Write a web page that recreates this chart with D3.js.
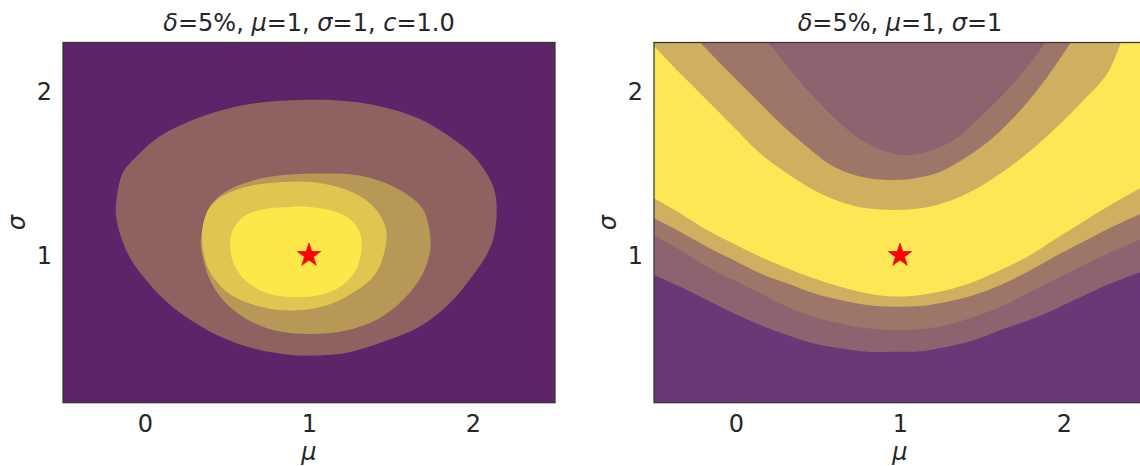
<!DOCTYPE html>
<html>
<head>
<meta charset="utf-8">
<script src="https://cdn.jsdelivr.net/npm/d3@7"></script>
<style>
  html, body { margin: 0; padding: 0; background: #fff; }
  svg { display: block; font-family: "DejaVu Sans", sans-serif; }
</style>
</head>
<body>
<svg id="chart" width="1140" height="466"></svg>
<script>
// ---------------- data ----------------
const muTicks = [0, 1, 2];
const sigmaTicks = [1, 2];
const muDomain = [-0.5, 2.5];
const sigmaDomain = [0.1, 2.3];
const trueMu = 1;
const trueSigma = 1;

const leftTitle = [["δ", true], ["=5%, ", false], ["μ", true], ["=1, ", false], ["σ", true], ["=1, ", false], ["c", true], ["=1.0", false]];
const rightTitle = [["δ", true], ["=5%, ", false], ["μ", true], ["=1, ", false], ["σ", true], ["=1", false]];

// left panel: nested confidence regions, [mu, sigma] boundary points
const leftOuter = [[0.93,1.949],[0.67,1.929],[0.44,1.878],[0.22,1.796],[0.07,1.714],[-0.044,1.612],[-0.133,1.51],[-0.167,1.388],[-0.178,1.265],[-0.156,1.143],[-0.089,0.98],[0.0,0.857],[0.111,0.735],[0.267,0.612],[0.444,0.51],[0.667,0.429],[0.889,0.392],[1.0,0.388],[1.222,0.404],[1.444,0.469],[1.667,0.561],[1.844,0.694],[2.0,0.878],[2.111,1.061],[2.144,1.245],[2.133,1.388],[2.089,1.49],[2.0,1.612],[1.844,1.735],[1.667,1.837],[1.444,1.908],[1.222,1.943]];
const leftMiddle = [[1.04,1.5],[0.84,1.49],[0.67,1.46],[0.53,1.41],[0.44,1.35],[0.38,1.27],[0.35,1.16],[0.34,1.06],[0.36,0.96],[0.4,0.84],[0.49,0.71],[0.62,0.61],[0.8,0.54],[1.0,0.52],[1.22,0.54],[1.42,0.61],[1.58,0.735],[1.69,0.88],[1.74,1.04],[1.73,1.18],[1.69,1.29],[1.6,1.37],[1.47,1.44],[1.29,1.49]];
const leftInner = [[0.89,1.45],[0.67,1.43],[0.53,1.39],[0.44,1.34],[0.38,1.27],[0.35,1.16],[0.35,1.06],[0.37,0.96],[0.42,0.86],[0.53,0.755],[0.71,0.685],[0.89,0.663],[1.07,0.684],[1.24,0.755],[1.4,0.88],[1.46,1.02],[1.47,1.16],[1.42,1.265],[1.33,1.35],[1.2,1.41],[1.04,1.445]];
const leftCore = [[0.89,1.296],[0.71,1.28],[0.6,1.235],[0.53,1.14],[0.52,1.04],[0.545,0.94],[0.62,0.84],[0.755,0.765],[0.91,0.745],[1.07,0.76],[1.2,0.815],[1.29,0.92],[1.32,1.04],[1.31,1.14],[1.245,1.225],[1.13,1.275],[1.0,1.296]];

// right panel: band boundaries (sigma at sampled mu), bottom to top
const rightMu = [-0.5,-0.341,-0.178,-0.016,0.147,0.311,0.473,0.636,0.799,0.962,1.125,1.288,1.451,1.614,1.777,1.939,2.102,2.265,2.5];
const rightB7 = [0.88,0.808,0.727,0.646,0.574,0.513,0.462,0.432,0.411,0.411,0.415,0.442,0.483,0.544,0.6,0.668,0.745,0.82,0.91];
const rightB6 = [1.124,1.032,0.931,0.849,0.768,0.686,0.625,0.584,0.554,0.544,0.548,0.574,0.625,0.686,0.768,0.85,0.93,1.01,1.11];
const rightB5 = [1.226,1.144,1.053,0.971,0.89,0.829,0.768,0.727,0.696,0.686,0.69,0.717,0.758,0.819,0.9,0.99,1.075,1.16,1.27];
const rightB4 = [1.348,1.257,1.155,1.073,0.992,0.921,0.86,0.808,0.768,0.748,0.758,0.788,0.839,0.91,0.992,1.094,1.196,1.297,1.43];
const rightB3Mu = [-0.5,-0.341,-0.178,-0.016,0.147,0.311,0.473,0.636,0.799,0.962,1.125,1.288,1.451,1.614,1.777,1.939,2.102,2.265,2.347];
const rightB3 = [2.278,2.112,1.949,1.786,1.623,1.501,1.399,1.328,1.287,1.277,1.287,1.328,1.399,1.501,1.623,1.767,1.929,2.112,2.3];
const rightB2 = [[-0.219,2.3],[-0.056,2.132],[0.107,1.969],[0.27,1.806],[0.433,1.664],[0.595,1.542],[0.758,1.481],[0.921,1.46],[1.084,1.47],[1.247,1.511],[1.41,1.603],[1.573,1.725],[1.736,1.888],[1.899,2.091],[2.041,2.3]];
const rightB1 = [[0.198,2.3],[0.331,2.132],[0.473,1.969],[0.636,1.806],[0.799,1.684],[1.003,1.613],[1.166,1.633],[1.328,1.704],[1.491,1.847],[1.655,2.01],[1.777,2.152],[1.888,2.3]];

// ---------------- styles ----------------
const leftColors = { bg: "#5e246a", outer: "#8e6260", middle: "#b89856", inner: "#e0c650", core: "#fde84a" };
const rightColors = { bg: "#6a3777", mauve: "#8e6370", tan: "#9d7569", gold: "#cfb060", yellow: "#fce854" };
const textColor = "#262626";
const fontSize = 24;

const svg = d3.select("#chart");
const defs = svg.append("defs");

const plotTop = 42.5, plotBottom = 402.7, plotW = 492;
const panels = [
  { left: 63, title: leftTitle, id: "L" },
  { left: 654, title: rightTitle, id: "R" }
];

function makePanel(p) {
  const x = d3.scaleLinear().domain(muDomain).range([p.left, p.left + plotW]);
  const y = d3.scaleLinear().domain(sigmaDomain).range([plotBottom, plotTop]);
  defs.append("clipPath").attr("id", "clip" + p.id)
    .append("rect").attr("x", p.left).attr("y", plotTop)
    .attr("width", plotW).attr("height", plotBottom - plotTop);
  const g = svg.append("g");
  const plot = g.append("g").attr("clip-path", `url(#clip${p.id})`);
  return { x, y, g, plot };
}

// ---- left panel ----
{
  const { x, y, g, plot } = makePanel(panels[0]);
  plot.append("rect").attr("x", x(muDomain[0])).attr("y", y(sigmaDomain[1]))
    .attr("width", x(muDomain[1]) - x(muDomain[0])).attr("height", y(sigmaDomain[0]) - y(sigmaDomain[1]))
    .attr("fill", leftColors.bg);
  const closed = d3.line().x(d => x(d[0])).y(d => y(d[1])).curve(d3.curveCatmullRomClosed.alpha(0.5));
  [[leftOuter, leftColors.outer], [leftMiddle, leftColors.middle], [leftInner, leftColors.inner], [leftCore, leftColors.core]]
    .forEach(([pts, c]) => plot.append("path").attr("d", closed(pts)).attr("fill", c));
  panels[0].scales = { x, y, g };
}

// ---- right panel ----
{
  const { x, y, g, plot } = makePanel(panels[1]);
  plot.append("rect").attr("x", x(muDomain[0])).attr("y", y(sigmaDomain[1]))
    .attr("width", x(muDomain[1]) - x(muDomain[0])).attr("height", y(sigmaDomain[0]) - y(sigmaDomain[1]))
    .attr("fill", rightColors.bg);
  const above = d3.area().x(d => x(d[0])).y0(y(2.6)).y1(d => y(d[1])).curve(d3.curveCatmullRom.alpha(0.5));
  const zipMu = (mus, s) => mus.map((m, i) => [m, s[i]]);
  const layers = [
    [zipMu(rightMu, rightB7), rightColors.mauve],
    [zipMu(rightMu, rightB6), rightColors.tan],
    [zipMu(rightMu, rightB5), rightColors.gold],
    [zipMu(rightMu, rightB4), rightColors.yellow],
    [zipMu(rightB3Mu, rightB3), rightColors.gold],
    [rightB2, rightColors.tan],
    [rightB1, rightColors.mauve]
  ];
  layers.forEach(([pts, c]) => plot.append("path").attr("d", above(pts)).attr("fill", c));
  panels[1].scales = { x, y, g };
}

// ---- common: star, frame, axes, labels ----
panels.forEach(p => {
  const { x, y, g } = p.scales;
  g.append("path")
    .attr("d", d3.symbol().type(d3.symbolStar).size(168)())
    .attr("transform", `translate(${x(trueMu)},${y(trueSigma)})`)
    .attr("fill", "#ff0000").attr("stroke", "#ff0000").attr("stroke-width", 0.8);

  g.append("rect").attr("x", x(muDomain[0])).attr("y", y(sigmaDomain[1]))
    .attr("width", x(muDomain[1]) - x(muDomain[0])).attr("height", y(sigmaDomain[0]) - y(sigmaDomain[1]))
    .attr("fill", "none").attr("stroke", "#333").attr("stroke-width", 1.25);

  const xa = g.append("g").attr("transform", `translate(0,${plotBottom})`)
    .call(d3.axisBottom(x).tickValues(muTicks).tickSize(0).tickPadding(12.5).tickFormat(d3.format("d")));
  const ya = g.append("g").attr("transform", `translate(${p.left},0)`)
    .call(d3.axisLeft(y).tickValues(sigmaTicks).tickSize(0).tickPadding(11).tickFormat(d3.format("d")));
  [xa, ya].forEach(a => {
    a.select(".domain").remove();
    a.selectAll("text").attr("fill", textColor).style("font-size", fontSize + "px")
      .style("font-family", "'DejaVu Sans', sans-serif");
  });

  // axis labels
  g.append("text").attr("x", x(1)).attr("y", 460).attr("text-anchor", "middle")
    .attr("fill", textColor).style("font-size", fontSize + "px").style("font-style", "italic").text("μ");
  g.append("text").attr("transform", `translate(${p.left - 38},${(plotTop + plotBottom) / 2}) rotate(-90)`)
    .attr("text-anchor", "middle")
    .attr("fill", textColor).style("font-size", fontSize + "px").style("font-style", "italic").text("σ");

  // title
  const t = g.append("text").attr("x", (x(muDomain[0]) + x(muDomain[1])) / 2).attr("y", 31)
    .attr("text-anchor", "middle").attr("fill", textColor).style("font-size", fontSize + "px");
  p.title.forEach(([s, it]) => t.append("tspan").style("font-style", it ? "italic" : "normal").text(s));
});
</script>
</body>
</html>
